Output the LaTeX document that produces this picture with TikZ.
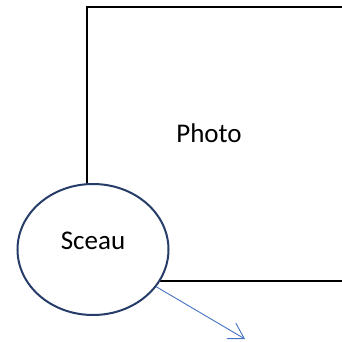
\documentclass[tikz,border=0pt]{standalone}
\usepackage{fontspec}
\setmainfont{Carlito}
\usepackage{tikz}
\usetikzlibrary{shapes.geometric,arrows.meta}
\definecolor{sealline}{RGB}{38,60,105}
\definecolor{arrowblue}{RGB}{68,114,196}
\tikzset{
  font={\fontsize{27pt}{32}\selectfont}}

\begin{document}
\begin{tikzpicture}[x=1pt,y=-1pt]
\tikzstyle{frame}=[draw=black,line width=2pt,rectangle,minimum width=255.5pt,minimum height=274pt,inner sep=0pt]
\tikzstyle{seal}=[draw=sealline,fill=white,line width=2pt,ellipse,minimum width=151pt,minimum height=131pt,inner sep=0pt,text height=18pt,text depth=18pt]
\tikzstyle{pointer}=[draw=arrowblue,line width=0.9pt,-{Straight Barb[length=15pt,width=18pt]}]
\useasboundingbox (0,0) rectangle (342,342);
\node (photo) [frame] at (214.75,144) {};
\node (photolabel) at ([shift={(-5.75,-10.5)}]photo.center) {Photo};
\node (sceau) [seal] at (93,249.5) {Sceau};
\coordinate (tip) at (245,339);
\draw [pointer] (sceau) -- (tip);
\end{tikzpicture}
\end{document}
